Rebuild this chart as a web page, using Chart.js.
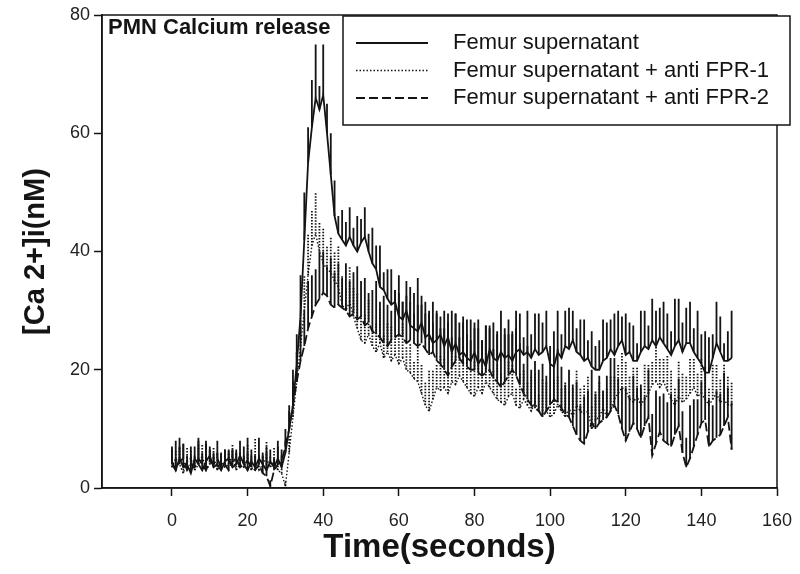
<!DOCTYPE html>
<html>
<head>
<meta charset="utf-8">
<script src="https://cdn.jsdelivr.net/npm/chart.js@4.4.0/dist/chart.umd.min.js"></script>
<style>
  html, body { margin: 0; padding: 0; background: #fff; }
  #chart { display: block; }
</style>
</head>
<body>
<canvas id="chart" width="800" height="574"></canvas>
<script>
// Data (time in seconds, [Ca2+]i in nM)
const times = [
  0, 1, 2, 3, 4, 5, 6, 7, 8, 9,
  10, 11, 12, 13, 14, 15, 16, 17, 18, 19,
  20, 21, 22, 23, 24, 25, 26, 27, 28, 29,
  30, 31, 32, 33, 34, 35, 36, 37, 38, 39,
  40, 41, 42, 43, 44, 45, 46, 47, 48, 49,
  50, 51, 52, 53, 54, 55, 56, 57, 58, 59,
  60, 61, 62, 63, 64, 65, 66, 67, 68, 69,
  70, 71, 72, 73, 74, 75, 76, 77, 78, 79,
  80, 81, 82, 83, 84, 85, 86, 87, 88, 89,
  90, 91, 92, 93, 94, 95, 96, 97, 98, 99,
  100, 101, 102, 103, 104, 105, 106, 107, 108, 109,
  110, 111, 112, 113, 114, 115, 116, 117, 118, 119,
  120, 121, 122, 123, 124, 125, 126, 127, 128, 129,
  130, 131, 132, 133, 134, 135, 136, 137, 138, 139,
  140, 141, 142, 143, 144, 145, 146, 147, 148
];
const xTicks = [0, 20, 40, 60, 80, 100, 120, 140, 160];
const yTicks = [0, 20, 40, 60, 80];
const seriesNames = ['Femur supernatant', 'Femur supernatant + anti FPR-1', 'Femur supernatant + anti FPR-2'];

const femur = [
  4.5, 3, 5, 3.5, 4, 2.5, 5, 4, 3, 4.5,
  5.5, 3.5, 4, 3, 4.5, 5, 3.5, 4, 5.5, 4,
  3, 4.5, 3.5, 5, 4, 3, 4.5, 3.5, 5, 3.5,
  6, 10, 14, 21, 29, 42, 55, 61, 66, 64,
  66.5, 60, 53, 46, 43, 42, 41, 42.5, 41, 40,
  41.5, 42.5, 40, 38, 37, 34, 33.5, 32, 31, 31.5,
  29, 28.5, 30, 27.5, 27, 26.5, 28, 25.5, 26, 24.5,
  25, 26, 24, 25.5, 23, 24.5, 22.5, 23, 22, 21.5,
  23, 21, 22, 20.5, 23.5, 22, 21.5, 23, 22, 22.5,
  21.5, 23, 23.5, 22.5, 23, 22, 23.5, 22.5, 23, 24,
  21, 20.5, 23, 22, 24, 23.5, 25, 23, 22.5, 21.5,
  22, 20.5, 20, 20, 21.5, 22, 23.5, 22.5, 24, 25,
  22.5, 23, 21.5, 21.5, 23, 24, 23.5, 25, 24, 25.5,
  24.5, 23.5, 22.5, 24, 25, 23, 24.5, 24.5, 23, 22,
  21, 19.5, 19.5, 22, 24.5, 23, 21.5, 21.5, 22
];
const femurErr = [
  2, 5, 2, 4, 1.5, 3, 2, 4, 2, 3,
  1.5, 2.5, 2, 3, 2, 1.5, 3, 2, 2.5, 1.5,
  3, 2, 2, 3.5, 2, 3, 2, 1.5, 3, 2,
  2, 3, 4, 5, 7, 8, 6, 8, 9, 4,
  8.5, 5, 7, 6, 3, 5, 4, 5, 3, 6,
  4, 5, 3, 6, 4, 7, 3, 5, 6, 2,
  7, 3, 5, 4, 6, 9, 3, 6, 4, 7,
  5, 3, 6, 4, 7, 5, 3, 6, 4, 7,
  5, 6, 3, 7, 4, 6, 5, 7, 4, 6,
  5, 7, 6, 3, 7, 4, 6, 7, 5, 6,
  3, 6, 7, 4, 6, 7, 5, 4, 6, 7,
  3, 6, 4, 5, 7, 6, 5, 7, 6, 4,
  7, 5, 6, 3, 7, 6, 4, 7, 6, 5,
  7, 6, 4, 8, 7, 5, 6, 7, 4, 8,
  5, 7, 6, 4, 7, 6, 3, 5, 8
];

const fpr1 = [
  3.5, 5, 4, 2.5, 4.5, 5, 3, 4, 5.5, 3,
  4, 5, 3, 4.5, 3.5, 4, 5.5, 3, 4, 3.5,
  5, 3, 4.5, 3, 4, 5, 3.5, 4.5, 3, 2.5,
  0.3, 6, 12, 18, 24, 30, 36, 41, 43, 40,
  38, 37, 36.5, 35, 34, 31, 30, 31.5, 29, 27,
  25, 24.5, 26, 24, 23, 24.5, 22, 23, 21.5, 22.5,
  21, 22, 20, 19.5, 18.5, 18, 16, 14, 13, 15,
  17, 16.5, 17, 16, 18, 17.5, 19, 18, 17, 16,
  15.5, 17, 16, 18, 17, 16, 15, 14.5, 14, 15.5,
  16, 14, 13.5, 15, 14, 13, 14.5, 13, 12.5, 13,
  12, 12.5, 14, 13, 12, 13.5, 12, 14, 13, 12.5,
  13, 10, 11.5, 12, 13.5, 12, 13, 15, 16, 17,
  16.5, 15, 14.5, 15.5, 14, 15, 16, 17.5, 18, 17,
  18, 16.5, 15, 14, 15.5, 14.5, 15, 16, 17, 15.5,
  16, 15, 14, 15, 16, 14.5, 15, 14, 14
];
const fpr1Err = [
  2, 1.5, 3, 2, 2.5, 1.5, 2, 3.5, 2, 1.5,
  2.5, 2, 3, 1.5, 2, 2.5, 2, 3, 1.5, 2,
  2.5, 2, 4, 2, 1.5, 3, 2, 2.5, 1.5, 2,
  1, 3, 4, 5, 5, 6, 7, 6, 7, 5,
  6, 4, 6, 5, 7, 5, 4, 6, 5, 6,
  4, 5, 6, 3, 5, 6, 4, 5, 6, 3,
  5, 6, 4, 5, 3, 6, 5, 4, 7, 5,
  4, 6, 5, 3, 6, 5, 4, 6, 5, 4,
  6, 5, 4, 6, 3, 4, 6, 5, 4, 6,
  5, 3, 6, 5, 4, 6, 5, 3, 6, 5,
  4, 6, 5, 4, 6, 3, 5, 6, 4, 5,
  6, 4, 5, 6, 3, 5, 6, 4, 5, 6,
  5, 4, 6, 5, 3, 6, 5, 4, 6, 5,
  4, 6, 5, 3, 6, 5, 4, 6, 5, 4,
  6, 5, 3, 6, 5, 4, 6, 5, 4
];

const fpr2 = [
  4, 3, 4.5, 5, 3, 4, 3.5, 5, 4, 3,
  4.5, 4, 5, 3.5, 4, 3, 4.5, 5, 3.5, 4,
  4.5, 3.5, 3, 4, 2.5, 2, 0.3, 3, 4, 4.5,
  7, 10, 14, 18, 21.5, 24, 27, 29, 31, 32,
  33, 32.5, 31, 30.5, 31, 30.5, 30, 29, 29.5, 28.5,
  29, 27.5, 28, 26.5, 26, 25.5, 24.5, 24, 25, 25.5,
  26, 25.5, 24.5, 25, 24.5, 24, 24.5, 23.5, 22.5, 23,
  21.5, 21, 20, 19, 20.5, 21.5, 22, 21, 20.5, 20,
  20, 19.5, 19, 19.5, 20, 18.5, 18, 17, 18, 19,
  20, 19, 17.5, 16, 15, 14, 13.5, 13, 12, 13,
  14, 15, 14.5, 13.5, 12.5, 12, 10.5, 9, 8, 7.5,
  9.5, 11, 10, 11, 11.5, 12, 13, 14, 12.5, 10,
  8, 9.5, 11, 10, 8.5, 10.5, 12, 5.5, 7.5, 9.5,
  8, 7.5, 7, 9, 10.5, 6, 3.5, 5, 7, 9,
  11, 11.5, 7, 8, 8.5, 9, 10.5, 12, 6.5
];
const fpr2Err = [
  3, 2, 4, 2.5, 1.5, 3, 2, 3.5, 2, 5,
  2, 1.5, 3, 2, 2.5, 3, 2, 1.5, 2.5, 3,
  4, 2, 2.5, 1.5, 3, 5, 1, 2, 3, 2,
  3, 4, 6, 5, 7, 6, 8, 7, 6, 8,
  7, 5, 8, 6, 7, 5, 8, 6, 7, 9,
  6, 8, 5, 7, 9, 6, 8, 7, 5, 8,
  7, 6, 8, 9, 5, 7, 8, 6, 7, 5,
  8, 6, 7, 9, 5, 8, 6, 7, 8, 5,
  7, 9, 6, 8, 7, 5, 8, 6, 9, 7,
  6, 8, 7, 5, 9, 6, 8, 7, 9, 6,
  8, 6, 9, 7, 5, 8, 7, 9, 6, 8,
  7, 9, 6, 8, 5, 7, 9, 8, 6, 7,
  9, 6, 8, 7, 9, 5, 8, 7, 9, 6,
  8, 7, 9, 6, 8, 7, 5, 9, 8, 6,
  7, 9, 8, 6, 8, 7, 9, 5, 8
];

const ink = '#141414';
const fontFamily = '"Liberation Sans", Arial, Helvetica, sans-serif';
Chart.defaults.font.family = fontFamily;

const toPoints = (values) => values.map((v, i) => ({ x: times[i], y: v }));

// Error bars: a vertical stroke from the mean up to mean + error
const errorBars = {
  id: 'errorBars',
  beforeDatasetsDraw(chart) {
    const ctx = chart.ctx;
    const yScale = chart.scales.y;
    chart.data.datasets.forEach((ds, i) => {
      const meta = chart.getDatasetMeta(i);
      ctx.save();
      ctx.strokeStyle = ink;
      ctx.lineWidth = ds.errorWidth;
      ctx.setLineDash(ds.errorDash);
      ctx.beginPath();
      meta.data.forEach((pt, j) => {
        const top = yScale.getPixelForValue(ds.data[j].y + ds.errors[j]);
        ctx.moveTo(pt.x, pt.y);
        ctx.lineTo(pt.x, top);
      });
      ctx.stroke();
      ctx.restore();
    });
  }
};

// Frame, panel title and boxed legend
const decorations = {
  id: 'decorations',
  afterDraw(chart) {
    const ctx = chart.ctx;
    const area = chart.chartArea;
    ctx.save();
    ctx.strokeStyle = ink;
    ctx.lineWidth = 1.5;
    ctx.strokeRect(area.left, area.top, area.right - area.left, area.bottom - area.top);

    ctx.fillStyle = ink;
    ctx.textBaseline = 'middle';
    ctx.font = 'bold 22px ' + fontFamily;
    ctx.fillText('PMN Calcium release', area.left + 6, area.top + 13);

    // legend box
    const left = 343, top = 16, right = 790, bottom = 125;
    ctx.fillStyle = '#fff';
    ctx.fillRect(left, top, right - left, bottom - top);
    ctx.strokeRect(left, top, right - left, bottom - top);

    ctx.font = '22px ' + fontFamily;
    chart.data.datasets.forEach((ds, i) => {
      const y = 43 + i * 27.5;
      ctx.beginPath();
      ctx.lineWidth = ds.borderWidth;
      ctx.setLineDash(ds.borderDash);
      ctx.moveTo(356, y);
      ctx.lineTo(428, y);
      ctx.stroke();
      ctx.setLineDash([]);
      ctx.fillStyle = ink;
      ctx.fillText(ds.label, 453, y);
    });
    ctx.restore();
  }
};

const makeSet = (label, values, errors, dash, width, errorDash) => ({
  label: label,
  data: toPoints(values),
  errors: errors,
  borderColor: ink,
  borderWidth: width,
  borderDash: dash,
  errorDash: errorDash,
  errorWidth: 1.8,
  pointRadius: 0,
  tension: 0,
  fill: false
});

const chart = new Chart(document.getElementById('chart').getContext('2d'), {
  type: 'line',
  data: {
    datasets: [
      makeSet(seriesNames[0], femur, femurErr, [], 1.8, []),
      makeSet(seriesNames[1], fpr1, fpr1Err, [1.5, 2], 1.4, [1.5, 1.5]),
      makeSet(seriesNames[2], fpr2, fpr2Err, [9, 4], 1.8, [])
    ]
  },
  options: {
    responsive: false,
    animation: false,
    devicePixelRatio: 1,
    layout: { padding: { left: 0, top: 15, right: 23, bottom: 0 } },
    plugins: {
      legend: { display: false },
      tooltip: { enabled: false }
    },
    scales: {
      x: {
        type: 'linear',
        min: -18.5,
        max: 160,
        afterFit: (s) => { s.height = 86; s.paddingLeft = 0; s.paddingRight = 0; },
        afterBuildTicks: (s) => { s.ticks = xTicks.map(v => ({ value: v })); },
        grid: { drawOnChartArea: false, tickLength: 8, tickColor: ink, tickWidth: 1.5 },
        border: { color: ink, width: 1.5 },
        ticks: { color: '#222', font: { size: 18 }, padding: 14, maxRotation: 0, autoSkip: false },
        title: {
          display: true,
          text: 'Time(seconds)',
          color: ink,
          font: { size: 33, weight: 'bold' },
          padding: { top: 0, bottom: 6 }
        }
      },
      y: {
        min: 0,
        max: 80,
        afterFit: (s) => { s.width = 102; s.paddingTop = 0; s.paddingBottom = 0; },
        afterBuildTicks: (s) => { s.ticks = yTicks.map(v => ({ value: v })); },
        grid: { drawOnChartArea: false, tickLength: 8, tickColor: ink, tickWidth: 1.5 },
        border: { color: ink, width: 1.5 },
        ticks: { color: '#222', font: { size: 18 }, padding: 4 },
        title: {
          display: true,
          text: '[Ca 2+]i(nM)',
          color: ink,
          font: { size: 29, weight: 'bold' },
          padding: { top: 19, bottom: 0 }
        }
      }
    }
  },
  plugins: [errorBars, decorations]
});
</script>
</body>
</html>
